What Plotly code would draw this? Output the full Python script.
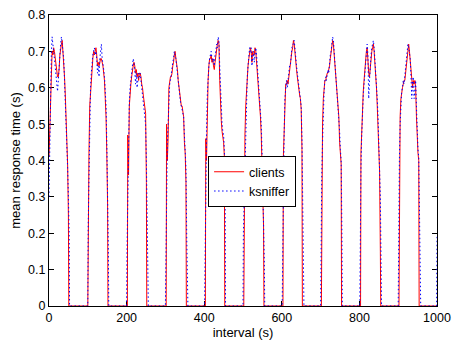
import plotly.graph_objects as go

# ---- data ----
# burst start times (s); values are sampled every 2 s from the start
clients_starts = [0, 101, 203, 303, 404, 503, 604, 703, 804, 903]
clients_b01 = [0.41, 0.50, 0.60, 0.68, 0.70, 0.69, 0.71, 0.70, 0.68, 0.67, 0.64, 0.63, 0.63,
               0.65, 0.69, 0.71, 0.72, 0.73, 0.70, 0.67, 0.63, 0.58, 0.53, 0.47, 0.39, 0.25]
clients_b02 = [0.27, 0.42, 0.55, 0.59, 0.63, 0.66, 0.68, 0.70, 0.69, 0.70, 0.71, 0.69, 0.66,
               0.67, 0.66, 0.67, 0.68, 0.68, 0.67, 0.66, 0.64, 0.62, 0.57, 0.52, 0.42, 0.28]
clients_b03 = [0.47, 0.36, 0.55, 0.59, 0.61, 0.63, 0.65, 0.66, 0.67, 0.66, 0.64, 0.65, 0.63,
               0.64, 0.62, 0.64, 0.64, 0.63, 0.61, 0.60, 0.58, 0.56, 0.55, 0.53, 0.34]
clients_b04 = [0.50, 0.40, 0.46, 0.60, 0.62, 0.63, 0.63, 0.64, 0.66, 0.67, 0.69, 0.70, 0.68,
               0.67, 0.65, 0.62, 0.60, 0.58, 0.56, 0.55, 0.55, 0.53, 0.52, 0.45, 0.42, 0.34]
clients_b05 = [0.46, 0.40, 0.55, 0.62, 0.66, 0.68, 0.68, 0.69, 0.67, 0.68, 0.66, 0.65, 0.67,
               0.69, 0.71, 0.72, 0.73, 0.72, 0.62, 0.55, 0.51, 0.48, 0.47, 0.45, 0.41]
clients_b06 = [0.35, 0.47, 0.55, 0.60, 0.64, 0.66, 0.68, 0.70, 0.71, 0.70, 0.67, 0.70, 0.69,
               0.69, 0.71, 0.70, 0.67, 0.65, 0.62, 0.60, 0.56, 0.52, 0.47, 0.40, 0.30, 0.22]
clients_b07 = [0.41, 0.50, 0.58, 0.61, 0.61, 0.62, 0.61, 0.63, 0.65, 0.67, 0.68, 0.70, 0.71,
               0.73, 0.72, 0.69, 0.67, 0.65, 0.63, 0.61, 0.59, 0.58, 0.57, 0.54, 0.43]
clients_b08 = [0.40, 0.50, 0.57, 0.60, 0.62, 0.62, 0.63, 0.64, 0.64, 0.65, 0.66, 0.68, 0.70,
               0.72, 0.73, 0.72, 0.69, 0.66, 0.63, 0.60, 0.57, 0.55, 0.52, 0.45, 0.41, 0.39]
clients_b09 = [0.42, 0.50, 0.55, 0.59, 0.62, 0.65, 0.67, 0.70, 0.71, 0.67, 0.64, 0.63, 0.66,
               0.68, 0.70, 0.71, 0.72, 0.70, 0.67, 0.64, 0.60, 0.55, 0.50, 0.42, 0.37, 0.15]
clients_b10 = [0.40, 0.52, 0.57, 0.59, 0.60, 0.61, 0.62, 0.62, 0.64, 0.66, 0.68, 0.71, 0.72,
               0.70, 0.67, 0.64, 0.62, 0.60, 0.62, 0.61, 0.62, 0.60, 0.52, 0.45, 0.42, 0.40]

ksniffer_starts = [0, 101, 201, 301, 402, 501, 602, 701, 802, 901, 1000]
ksniffer_b01 = [0.30, 0.45, 0.62, 0.69, 0.74, 0.71, 0.70, 0.68, 0.66, 0.64, 0.61, 0.59, 0.62,
                0.66, 0.70, 0.72, 0.74, 0.72, 0.70, 0.68, 0.62, 0.57, 0.52, 0.45, 0.38, 0.30, 0.20]
ksniffer_b02 = [0.22, 0.38, 0.52, 0.60, 0.64, 0.67, 0.69, 0.70, 0.71, 0.69, 0.70, 0.68, 0.64,
                0.66, 0.63, 0.68, 0.70, 0.72, 0.68, 0.67, 0.65, 0.63, 0.59, 0.55, 0.45, 0.33, 0.15]
ksniffer_b03 = [0.15, 0.30, 0.45, 0.56, 0.60, 0.62, 0.64, 0.66, 0.68, 0.67, 0.65, 0.61, 0.64,
                0.60, 0.63, 0.64, 0.63, 0.64, 0.62, 0.60, 0.58, 0.57, 0.55, 0.53, 0.50, 0.40,
                0.20, 0.08]
ksniffer_b04 = [0.12, 0.35, 0.45, 0.50, 0.58, 0.61, 0.62, 0.64, 0.65, 0.67, 0.68, 0.70, 0.69,
                0.68, 0.66, 0.64, 0.62, 0.59, 0.58, 0.56, 0.55, 0.54, 0.53, 0.52, 0.47, 0.43,
                0.38, 0.19, 0.06]
ksniffer_b05 = [0.15, 0.35, 0.48, 0.58, 0.63, 0.66, 0.68, 0.69, 0.70, 0.68, 0.67, 0.68, 0.66,
                0.69, 0.70, 0.72, 0.71, 0.74, 0.73, 0.66, 0.59, 0.53, 0.50, 0.48, 0.47, 0.43, 0.30]
ksniffer_b06 = [0.20, 0.30, 0.42, 0.52, 0.59, 0.63, 0.66, 0.69, 0.71, 0.70, 0.71, 0.66, 0.68,
                0.70, 0.67, 0.70, 0.71, 0.69, 0.66, 0.63, 0.61, 0.58, 0.55, 0.50, 0.43, 0.35,
                0.27, 0.12]
ksniffer_b07 = [0.10, 0.35, 0.47, 0.57, 0.60, 0.62, 0.60, 0.62, 0.64, 0.66, 0.66, 0.69, 0.71,
                0.72, 0.72, 0.73, 0.70, 0.68, 0.66, 0.64, 0.62, 0.60, 0.58, 0.57, 0.55, 0.46,
                0.25, 0.05]
ksniffer_b08 = [0.25, 0.36, 0.45, 0.55, 0.59, 0.62, 0.63, 0.62, 0.64, 0.65, 0.64, 0.67, 0.69,
                0.70, 0.72, 0.74, 0.73, 0.70, 0.67, 0.64, 0.61, 0.58, 0.56, 0.53, 0.48, 0.43,
                0.40, 0.20]
ksniffer_b09 = [0.20, 0.38, 0.47, 0.54, 0.58, 0.61, 0.64, 0.66, 0.69, 0.72, 0.69, 0.57, 0.62,
                0.67, 0.69, 0.71, 0.72, 0.73, 0.71, 0.68, 0.65, 0.62, 0.57, 0.52, 0.45, 0.40,
                0.30, 0.10]
ksniffer_b10 = [0.22, 0.40, 0.50, 0.56, 0.59, 0.60, 0.62, 0.61, 0.63, 0.65, 0.67, 0.69, 0.72,
                0.71, 0.69, 0.68, 0.63, 0.57, 0.62, 0.63, 0.57, 0.61, 0.62, 0.55, 0.48, 0.43,
                0.41, 0.25, 0.08]
ksniffer_b11 = [0.19]

clients_bursts = [clients_b01, clients_b02, clients_b03, clients_b04, clients_b05,
                  clients_b06, clients_b07, clients_b08, clients_b09, clients_b10]
ksniffer_bursts = [ksniffer_b01, ksniffer_b02, ksniffer_b03, ksniffer_b04, ksniffer_b05,
                   ksniffer_b06, ksniffer_b07, ksniffer_b08, ksniffer_b09, ksniffer_b10,
                   ksniffer_b11]

x_ticks = [0, 200, 400, 600, 800, 1000]
y_ticks = [0, 0.1, 0.2, 0.3, 0.4, 0.5, 0.6, 0.7, 0.8]
STEP = 2
T_END = 1000


def build(starts, bursts):
    xs, ys = [], []
    for s, vals in zip(starts, bursts):
        if s > 0:
            xs.append(s - 1)
            ys.append(0)
        for i, v in enumerate(vals):
            xs.append(s + STEP * i)
            ys.append(v)
        last = s + STEP * (len(vals) - 1)
        if last < T_END:
            xs.append(last + 1)
            ys.append(0)
    if xs[-1] < T_END:
        xs.append(T_END)
        ys.append(0)
    return xs, ys


cx, cy = build(clients_starts, clients_bursts)
kx, ky = build(ksniffer_starts, ksniffer_bursts)

FONT = "Liberation Sans, Arial, Helvetica, sans-serif"

fig = go.Figure()
fig.add_trace(go.Scatter(x=cx, y=cy, mode="lines", name="clients",
                         line=dict(color="#ff0000", width=1)))
fig.add_trace(go.Scatter(x=kx, y=ky, mode="lines", name="ksniffer",
                         line=dict(color="#0000ff", width=1, dash="1.5px,2.5px")))

axis_common = dict(showline=True, linecolor="black", linewidth=1, mirror="ticks",
                   ticks="inside", ticklen=5, tickcolor="black", showgrid=False,
                   zeroline=False, layer="below traces",
                   tickfont=dict(family=FONT, size=12.5, color="black"))

fig.update_layout(
    width=463, height=351,
    margin=dict(l=49, r=26, t=15, b=45, autoexpand=False),
    paper_bgcolor="white", plot_bgcolor="white",
    font=dict(family=FONT, size=12.5, color="black"),
    showlegend=True,
    legend=dict(x=0.41, y=0.515, xanchor="left", yanchor="top",
                bgcolor="white", bordercolor="black", borderwidth=1,
                font=dict(family=FONT, size=12.5, color="black"),
                tracegroupgap=0, itemwidth=30),
    xaxis=dict(range=[0, 1000], tickvals=x_ticks, ticktext=[str(v) for v in x_ticks],
               title=dict(text="interval (s)", font=dict(family=FONT, size=13), standoff=2),
               **axis_common),
    yaxis=dict(range=[0, 0.8], tickvals=y_ticks,
               ticktext=["0"] + [f"{v:.1f}" for v in y_ticks[1:]],
               title=dict(text="mean response time (s)", font=dict(family=FONT, size=13),
                          standoff=4),
               **axis_common),
)

fig.write_html("out.html")
